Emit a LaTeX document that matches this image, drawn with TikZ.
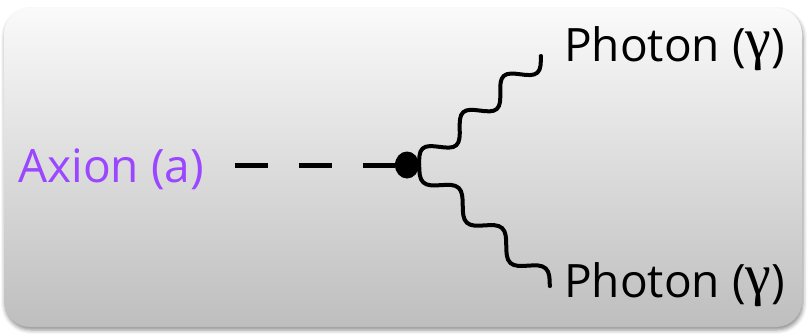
\documentclass[tikz,border=0pt]{standalone}
\usepackage{fontspec}
\setmainfont{Open Sans}
\newfontfamily\gfont{Liberation Serif}
\usetikzlibrary{decorations,shadows.blur,shapes.geometric}
\definecolor{axpurple}{RGB}{155,70,255}
\definecolor{bgtop}{RGB}{250,250,250}
\definecolor{bgbot}{RGB}{190,190,190}
\newcommand{\gam}{\raisebox{3pt}{\fontsize{58}{58}\selectfont\gfont γ}}
\pgfdeclaredecoration{photonwave}{up}{
  \state{up}[width=+.5\pgfdecorationsegmentlength, next state=down,
             switch if less than=+.45\pgfdecorationsegmentlength to final]{
    \pgfpathlineto{\pgfpointorigin}
    \pgfpathcurveto{\pgfqpoint{.08357\pgfdecorationsegmentlength}{.5251\pgfdecorationsegmentamplitude}}
                   {\pgfqpoint{.16\pgfdecorationsegmentlength}{\pgfdecorationsegmentamplitude}}
                   {\pgfqpoint{.25\pgfdecorationsegmentlength}{\pgfdecorationsegmentamplitude}}
    \pgfpathcurveto{\pgfqpoint{.34\pgfdecorationsegmentlength}{\pgfdecorationsegmentamplitude}}
                   {\pgfqpoint{.41643\pgfdecorationsegmentlength}{.5251\pgfdecorationsegmentamplitude}}
                   {\pgfqpoint{.5\pgfdecorationsegmentlength}{0pt}}
  }
  \state{down}[width=+.5\pgfdecorationsegmentlength, next state=up,
               switch if less than=+.45\pgfdecorationsegmentlength to final]{
    \pgfpathcurveto{\pgfqpoint{.08357\pgfdecorationsegmentlength}{-.5251\pgfdecorationsegmentamplitude}}
                   {\pgfqpoint{.16\pgfdecorationsegmentlength}{-\pgfdecorationsegmentamplitude}}
                   {\pgfqpoint{.25\pgfdecorationsegmentlength}{-\pgfdecorationsegmentamplitude}}
    \pgfpathcurveto{\pgfqpoint{.34\pgfdecorationsegmentlength}{-\pgfdecorationsegmentamplitude}}
                   {\pgfqpoint{.41643\pgfdecorationsegmentlength}{-.5251\pgfdecorationsegmentamplitude}}
                   {\pgfqpoint{.5\pgfdecorationsegmentlength}{0pt}}
  }
  \state{final}{\pgfpathlineto{\pgfpointdecoratedpathlast}}
}
\begin{document}
\begin{tikzpicture}[x=1pt,y=-1pt,
  lbl/.style={font=\fontsize{46}{50}\selectfont, inner sep=0pt, anchor=base west},
  wave/.style={line width=4pt, line cap=round, decorate, decoration={photonwave, amplitude=10pt, segment length=#1}},
  dashline/.style={line width=5pt, dash pattern=on 33pt off 31pt},
  vertex/.style={ellipse, fill=black, minimum width=24pt, minimum height=27pt, inner sep=0pt},
  panel/.style={rounded corners=26pt, top color=bgtop, bottom color=bgbot,
    blur shadow={shadow xshift=1pt, shadow yshift=-3pt, shadow blur radius=4pt, shadow opacity=45}}
  ]
\useasboundingbox (0,0) rectangle (809,335);
\path[panel] (4,8) rectangle (802,327);
\node[lbl, text=axpurple] (axion) at (18,182) {Axion (a)};
\node[vertex] (dot) at (407,165) {};
\node[lbl] (ph1) at (564,61) {Photon (\gam)};
\node[lbl] (ph2) at (564,297) {Photon (\gam)};
\coordinate (dashstart) at (235,165);
\coordinate (e1) at (541,56);
\coordinate (e2) at (550,286);
\draw[dashline] (dashstart) -- (dot);
\draw[wave=54.4pt] (dot.east) -- (e1);
\draw[wave=59.3pt, decoration={mirror}] (dot.east) -- (e2);
\end{tikzpicture}
\end{document}
